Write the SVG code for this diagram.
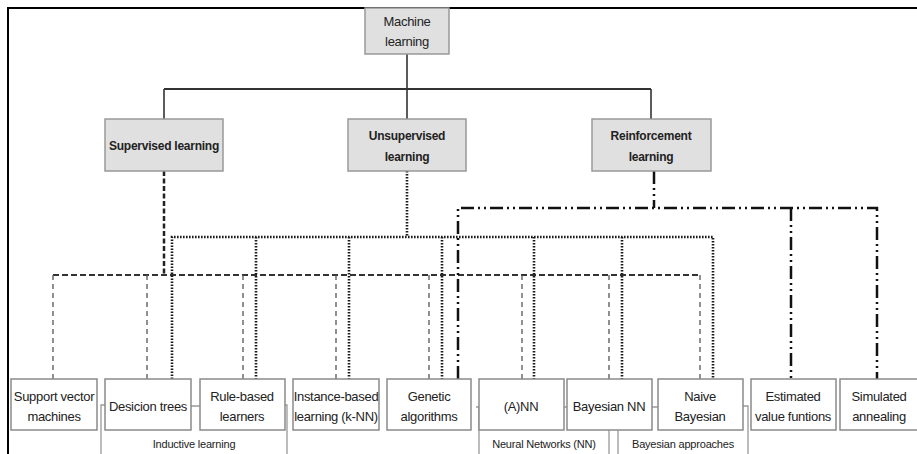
<svg xmlns="http://www.w3.org/2000/svg" width="917" height="454" viewBox="0 0 917 454">
<style>
text{font-family:"Liberation Sans",Arial,sans-serif;fill:#222;text-anchor:middle;dominant-baseline:middle}
.top{fill:#e0e0e0;stroke:#999;stroke-width:1.5}
.leaf{fill:#fff;stroke:#8a8a8a;stroke-width:1.5}
.tt{font-size:12px;font-weight:bold;letter-spacing:-0.25px}
.lt{font-size:13px;letter-spacing:-0.3px}
.gt{font-size:11px;letter-spacing:-0.2px}
.solid{fill:none;stroke:#333;stroke-width:1.6}
.sup{fill:none;stroke:#222;stroke-width:2.5;stroke-dasharray:5 2.5}
.supline{fill:none;stroke:#333;stroke-width:1.8;stroke-dasharray:6 3}
.supdrop{fill:none;stroke:#555;stroke-width:1.3;stroke-dasharray:5 4}
.uns{fill:none;stroke:#1a1a1a;stroke-width:2.6;stroke-dasharray:1.6 1.4}
.rein{fill:none;stroke:#111;stroke-width:2.5;stroke-dasharray:13 4 2 4 2 4}
.brk{fill:none;stroke:#999;stroke-width:1.3}
</style>
<rect width="917" height="454" fill="#fff"/>
<path d="M8,454 V8 H917" fill="none" stroke="#000" stroke-width="2"/>
<g id="brackets">
<path class="brk" d="M105,405 H101 V454 M285,405 H287 V454 M191,406 H200"/>
<path class="brk" d="M476,407 H479 V454 M564,407 H567 M609,430 V454"/>
<path class="brk" d="M618,430 V454 M652,407 H658 M743,406 H748 V454"/>
</g>
<g id="connectors">
<path class="solid" d="M407,54 V89 M164,89 V119 M407,89 V119 M651,89 V119"/>
<path d="M164,89 H651" fill="none" stroke="#333" stroke-width="2.2"/>
<path class="sup" d="M164,171 V275"/>
<path class="supline" d="M53,275 H700"/>
<path class="supdrop" d="M53,275 V379 M147,275 V379 M243,275 V379 M336,275 V379 M429,275 V379 M522,275 V379 M609,275 V379 M700,275 V379"/>
<path class="uns" d="M407,171 V237 M172,379 V237 H713 V379 M256,237 V379 M349,237 V379 M442,237 V379 M534,237 V379 M622,237 V379"/>
<path class="rein" d="M654,171 V208 M458,379 V208 H877 V379 M791,208 V379"/>
</g>
<g id="machine-learning"><rect class="top" x="365" y="8" width="84" height="46"/><text class="lt" x="407" y="23">Machine</text><text class="lt" x="407" y="43">learning</text></g>
<g id="supervised"><rect class="top" x="105" y="119" width="118" height="52"/><text class="tt" x="164" y="147">Supervised learning</text></g>
<g id="unsupervised"><rect class="top" x="348" y="119" width="118" height="52"/><text class="tt" x="407" y="137">Unsupervised</text><text class="tt" x="407" y="158">learning</text></g>
<g id="reinforcement"><rect class="top" x="592" y="119" width="119" height="52"/><text class="tt" x="651" y="137">Reinforcement</text><text class="tt" x="651" y="158">learning</text></g>
<g id="svm"><rect class="leaf" x="11" y="379" width="86" height="51"/><text class="lt" x="54" y="398">Support vector</text><text class="lt" x="54" y="418">machines</text></g>
<g id="decision-trees"><rect class="leaf" x="105" y="379" width="86" height="51"/><text class="lt" x="148" y="408">Desicion trees</text></g>
<g id="rule-based"><rect class="leaf" x="200" y="379" width="85" height="51"/><text class="lt" x="242" y="398">Rule-based</text><text class="lt" x="242" y="418">learners</text></g>
<g id="instance-based"><rect class="leaf" x="293" y="379" width="86" height="51"/><text class="lt" x="336" y="398">Instance-based</text><text class="lt" x="336" y="418">learning (k-NN)</text></g>
<g id="genetic"><rect class="leaf" x="387" y="379" width="84" height="51"/><text class="lt" x="429" y="398">Genetic</text><text class="lt" x="429" y="418">algorithms</text></g>
<g id="ann"><rect class="leaf" x="479" y="379" width="85" height="51"/><text class="lt" x="521" y="408">(A)NN</text></g>
<g id="bayesian-nn"><rect class="leaf" x="567" y="379" width="85" height="51"/><text class="lt" x="609" y="408">Bayesian NN</text></g>
<g id="naive-bayesian"><rect class="leaf" x="658" y="379" width="85" height="51"/><text class="lt" x="700" y="398">Naive</text><text class="lt" x="700" y="418">Bayesian</text></g>
<g id="estimated"><rect class="leaf" x="751" y="379" width="85" height="51"/><text class="lt" x="793" y="398">Estimated</text><text class="lt" x="793" y="418">value funtions</text></g>
<g id="simulated"><rect class="leaf" x="840" y="379" width="78" height="51"/><text class="lt" x="879" y="398">Simulated</text><text class="lt" x="879" y="418">annealing</text></g>
<g id="group-labels">
<text class="gt" x="194" y="445">Inductive learning</text>
<text class="gt" x="544" y="445">Neural Networks (NN)</text>
<text class="gt" x="683" y="445">Bayesian approaches</text>
</g>
</svg>
